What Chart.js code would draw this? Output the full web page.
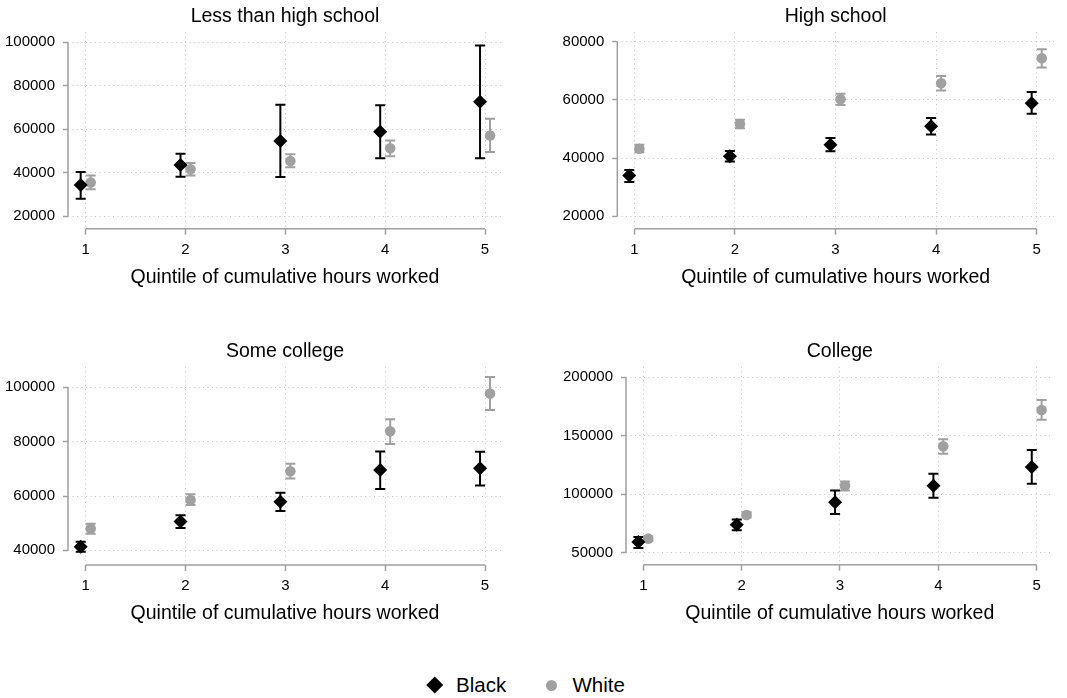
<!DOCTYPE html>
<html>
<head>
<meta charset="utf-8">
<script src="https://cdn.jsdelivr.net/npm/chart.js@4/dist/chart.umd.min.js"></script>
<style>
html,body{margin:0;padding:0;background:#fff;}
body{width:1067px;height:698px;position:relative;overflow:hidden;font-family:"Liberation Sans",Arial,Helvetica,sans-serif;}
.pane{position:absolute;}
.pane canvas{display:block;}
.lg-text{position:absolute;font-size:20.5px;line-height:22px;color:#000;white-space:nowrap;}
.lg-dia{position:absolute;width:11.5px;height:11.5px;background:#000;transform:rotate(45deg);}
.lg-dot{position:absolute;width:11px;height:11px;border-radius:50%;background:#a0a0a0;}
</style>
</head>
<body>
<div class="pane" id="p0"><canvas id="c0"></canvas></div>
<div class="pane" id="p1"><canvas id="c1"></canvas></div>
<div class="pane" id="p2"><canvas id="c2"></canvas></div>
<div class="pane" id="p3"><canvas id="c3"></canvas></div>
<div id="legend">
  <div class="lg-dia" style="left:429px;top:679px;"></div>
  <div class="lg-text" id="lgBlack" style="left:456px;top:674px;"></div>
  <div class="lg-dot" style="left:545.5px;top:679.5px;"></div>
  <div class="lg-text" id="lgWhite" style="left:572.5px;top:674px;"></div>
</div>
<script>
// ---------------- data ----------------
const quintiles = [1, 2, 3, 4, 5];
const seriesNames = ['Black', 'White'];
const panelTitles = ['Less than high school', 'High school', 'Some college', 'College'];
const xAxisTitle = 'Quintile of cumulative hours worked';

// tick values
const xTickValues = [1, 2, 3, 4, 5];
const yTicksLessHS = [20000, 40000, 60000, 80000, 100000];
const yTicksHS = [20000, 40000, 60000, 80000];
const yTicksSomeCol = [40000, 60000, 80000, 100000];
const yTicksCollege = [50000, 100000, 150000, 200000];

// Less than high school
const lessHSBlack = [34400, 43600, 54600, 58900, 72600];
const lessHSBlackLow = [28100, 38200, 38100, 46700, 46700];
const lessHSBlackHigh = [40400, 48800, 71300, 71000, 98500];
const lessHSWhite = [35500, 41600, 45400, 51300, 57100];
const lessHSWhiteLow = [32400, 38700, 42500, 47600, 49600];
const lessHSWhiteHigh = [38700, 44500, 48500, 54800, 64800];

// High school
const hsBlack = [34000, 40600, 44600, 50900, 58800];
const hsBlackLow = [31800, 38800, 42300, 48100, 55200];
const hsBlackHigh = [35900, 42400, 46900, 53800, 62700];
const hsWhite = [43200, 51700, 60200, 65700, 74300];
const hsWhiteLow = [42000, 50200, 58200, 63200, 71100];
const hsWhiteHigh = [44600, 53200, 62100, 68200, 77400];

// Some college
const someColBlack = [41300, 50600, 57900, 69600, 70200];
const someColBlackLow = [39500, 48200, 54500, 62600, 63900];
const someColBlackHigh = [43200, 52900, 61200, 76400, 76300];
const someColWhite = [48000, 58500, 69100, 83800, 97700];
const someColWhiteLow = [46100, 56700, 66400, 79100, 91700];
const someColWhiteHigh = [49800, 60600, 71900, 88300, 103800];

// College
const colBlack = [59100, 74000, 93100, 107300, 123300];
const colBlackLow = [54000, 69100, 83100, 97100, 109000];
const colBlackHigh = [63400, 78500, 103300, 117600, 137800];
const colWhite = [62000, 82200, 107300, 141000, 172100];
const colWhiteLow = [60000, 80000, 103300, 134700, 163800];
const colWhiteHigh = [64000, 84500, 110800, 147000, 180600];

// ---------------- styling / layout ----------------
const BLACK = '#000000';
const GRAY = '#a0a0a0';
const AXIS = '#a0a0a0';
const GRID = '#c4c4c4';
const OFFSET = 0.05;      // horizontal dodge of the two series
const CAP = 5;            // half width of error-bar caps
const FONT = '"Liberation Sans", Arial, Helvetica, sans-serif';
Chart.defaults.font.family = FONT;
Chart.defaults.color = '#000';

const panels = [
  {title: panelTitles[0], yTicks: yTicksLessHS, b: lessHSBlack, bl: lessHSBlackLow, bh: lessHSBlackHigh, w: lessHSWhite, wl: lessHSWhiteLow, wh: lessHSWhiteHigh,
   box: {left: 0, top: 0, width: 533, height: 330}, area: {l: 68, t: 32, r: 502, b: 228.7}, xr: [0.823, 5.17], yr: [14300, 104700], titleY: 17, axisTitleY: 277.5},
  {title: panelTitles[1], yTicks: yTicksHS, b: hsBlack, bl: hsBlackLow, bh: hsBlackHigh, w: hsWhite, wl: hsWhiteLow, wh: hsWhiteHigh,
   box: {left: 533, top: 0, width: 534, height: 330}, area: {l: 617.3, t: 32, r: 1054, b: 228.7}, xr: [0.831, 5.172], yr: [15740, 83300], titleY: 17, axisTitleY: 277.5},
  {title: panelTitles[2], yTicks: yTicksSomeCol, b: someColBlack, bl: someColBlackLow, bh: someColBlackHigh, w: someColWhite, wl: someColWhiteLow, wh: someColWhiteHigh,
   box: {left: 0, top: 330, width: 533, height: 340}, area: {l: 68, t: 366.7, r: 502, b: 565}, xr: [0.823, 5.17], yr: [34600, 107600], titleY: 352, axisTitleY: 613.5},
  {title: panelTitles[3], yTicks: yTicksCollege, b: colBlack, bl: colBlackLow, bh: colBlackHigh, w: colWhite, wl: colWhiteLow, wh: colWhiteHigh,
   box: {left: 533, top: 330, width: 534, height: 340}, area: {l: 626, t: 366.7, r: 1053.6, b: 564.7}, xr: [0.824, 5.172], yr: [39740, 209070], titleY: 352, axisTitleY: 613.5}
];

const TITLE_SIZE = 19.5;
const TITLE_LH = TITLE_SIZE * 1.2;
const BOTTOM_H = 70;

const errorBars = {
  id: 'errorBars',
  beforeDatasetsDraw(chart) {
    const {ctx} = chart;
    const xs = chart.scales.x, ys = chart.scales.y;
    chart.data.datasets.forEach(ds => {
      if (!ds.errLow) return;
      ctx.save();
      ctx.strokeStyle = ds.errColor;
      ctx.lineWidth = 2;
      ds.data.forEach((pt, i) => {
        const px = xs.getPixelForValue(pt.x);
        const yl = ys.getPixelForValue(ds.errLow[i]);
        const yh = ys.getPixelForValue(ds.errHigh[i]);
        ctx.beginPath();
        ctx.moveTo(px, yl); ctx.lineTo(px, yh);
        ctx.moveTo(px - CAP, yl); ctx.lineTo(px + CAP, yl);
        ctx.moveTo(px - CAP, yh); ctx.lineTo(px + CAP, yh);
        ctx.stroke();
      });
      ctx.restore();
    });
  }
};

const axisLines = {
  id: 'axisLines',
  afterDraw(chart) {
    const {ctx, chartArea} = chart;
    const xs = chart.scales.x, ys = chart.scales.y;
    const xt = xs.ticks.map(t => t.value), yt = ys.ticks.map(t => t.value);
    ctx.save();
    ctx.strokeStyle = AXIS;
    ctx.lineWidth = 1.5;
    ctx.beginPath();
    ctx.moveTo(chartArea.left, ys.getPixelForValue(Math.min(...yt)));
    ctx.lineTo(chartArea.left, ys.getPixelForValue(Math.max(...yt)));
    ctx.moveTo(xs.getPixelForValue(Math.min(...xt)), chartArea.bottom);
    ctx.lineTo(xs.getPixelForValue(Math.max(...xt)), chartArea.bottom);
    ctx.stroke();
    ctx.restore();
  }
};

panels.forEach((P, idx) => {
  const pane = document.getElementById('p' + idx);
  pane.style.left = P.box.left + 'px';
  pane.style.top = P.box.top + 'px';
  const canvas = document.getElementById('c' + idx);
  canvas.width = P.box.width;
  canvas.height = P.box.height;
  canvas.style.width = P.box.width + 'px';
  canvas.style.height = P.box.height + 'px';

  const yAxisW = P.area.l - P.box.left;
  const padRight = P.box.left + P.box.width - P.area.r;
  const topH = P.area.t - P.box.top;
  const padBottom = P.box.top + P.box.height - P.area.b - BOTTOM_H;
  const titlePadTop = (P.titleY - P.box.top) - TITLE_LH / 2;
  const axisTitlePadBottom = (P.area.b + BOTTOM_H) - P.axisTitleY - TITLE_LH / 2;

  new Chart(canvas, {
    type: 'scatter',
    data: {
      datasets: [
        {label: seriesNames[0], data: quintiles.map((q, i) => ({x: q - OFFSET, y: P.b[i]})),
         errLow: P.bl, errHigh: P.bh, errColor: BLACK,
         pointStyle: 'rectRot', pointRadius: 7, backgroundColor: BLACK, borderColor: BLACK, borderWidth: 0, showLine: false},
        {label: seriesNames[1], data: quintiles.map((q, i) => ({x: q + OFFSET, y: P.w[i]})),
         errLow: P.wl, errHigh: P.wh, errColor: GRAY,
         pointStyle: 'circle', pointRadius: 5.3, backgroundColor: GRAY, borderColor: GRAY, borderWidth: 0, showLine: false}
      ]
    },
    options: {
      responsive: false,
      animation: false,
      events: [],
      layout: {padding: {left: 0, right: padRight, top: 0, bottom: padBottom}},
      plugins: {legend: {display: false}, tooltip: {enabled: false}, title: {display: false}},
      scales: {
        x: {
          type: 'linear', position: 'bottom', min: P.xr[0], max: P.xr[1],
          afterBuildTicks: s => { s.ticks = xTickValues.map(v => ({value: v})); },
          afterFit: s => { s.height = BOTTOM_H; },
          grid: {color: GRID, lineWidth: 1, drawTicks: true, tickLength: 6, tickColor: AXIS, tickWidth: 1.5, tickBorderDash: []},
          border: {display: false, dash: [1, 3.5]},
          ticks: {color: '#000', font: {size: 15}, padding: 6, maxRotation: 0, callback: v => String(v)},
          title: {display: true, text: xAxisTitle, color: '#000', font: {size: TITLE_SIZE}, padding: {top: 0, bottom: axisTitlePadBottom}}
        },
        x2: {
          type: 'linear', position: 'top', min: P.xr[0], max: P.xr[1],
          afterFit: s => { s.height = topH; },
          grid: {display: false, drawTicks: false},
          border: {display: false},
          ticks: {display: false},
          title: {display: true, text: P.title, color: '#000', font: {size: TITLE_SIZE}, padding: {top: titlePadTop, bottom: 0}}
        },
        y: {
          type: 'linear', position: 'left', min: P.yr[0], max: P.yr[1],
          afterBuildTicks: s => { s.ticks = P.yTicks.map(v => ({value: v})); },
          afterFit: s => { s.width = yAxisW; },
          grid: {color: GRID, lineWidth: 1, drawTicks: true, tickLength: 5, tickColor: AXIS, tickWidth: 1.5, tickBorderDash: []},
          border: {display: false, dash: [1, 3.5]},
          ticks: {color: '#000', font: {size: 15}, padding: 8, callback: v => String(v)}
        }
      }
    },
    plugins: [errorBars, axisLines]
  });
});

document.getElementById('lgBlack').textContent = seriesNames[0];
document.getElementById('lgWhite').textContent = seriesNames[1];
</script>
</body>
</html>
